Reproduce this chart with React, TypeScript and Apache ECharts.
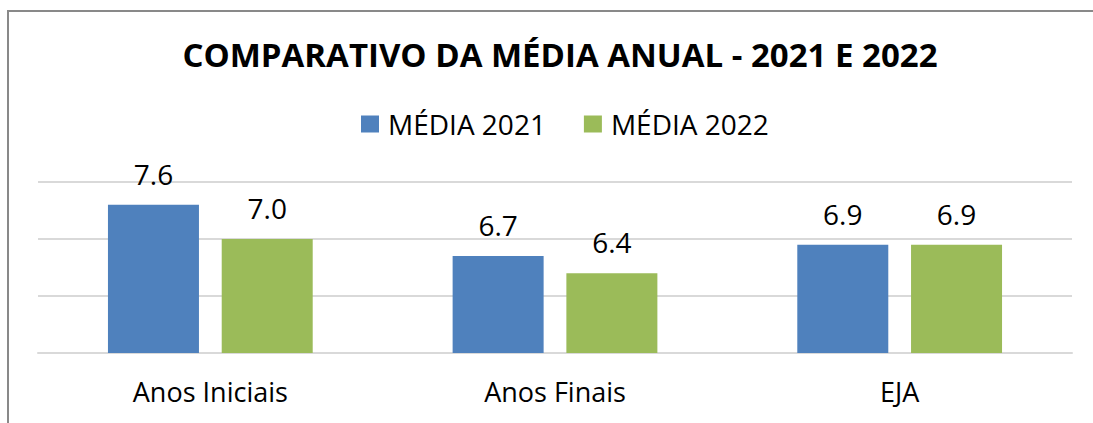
import React, { useEffect, useRef } from "react";
import * as echarts from "echarts";

const categories = ["Anos Iniciais", "Anos Finais", "EJA"];
const media2021 = [7.6, 6.7, 6.9];
const media2022 = [7.0, 6.4, 6.9];
const seriesNames = ["MÉDIA 2021", "MÉDIA 2022"];
const titleText = "COMPARATIVO DA MÉDIA ANUAL - 2021 E 2022";

export default function App() {
  const ref = useRef<HTMLDivElement>(null);
  useEffect(() => {
    document.body.style.margin = "0";
    const chart = echarts.init(ref.current!, null, { renderer: "svg" });
    const font = "'Open Sans', sans-serif";
    const label = {
      show: true,
      position: "top",
      distance: 17,
      fontFamily: font,
      fontSize: 28,
      color: "#000",
      formatter: (p: any) => Number(p.value).toFixed(1),
    };
    chart.setOption({
      animation: false,
      backgroundColor: "#fff",
      title: {
        text: titleText,
        left: 555,
        textAlign: "center",
        top: 33,
        textStyle: { fontFamily: font, fontSize: 33, fontWeight: "bold", color: "#000" },
      },
      legend: {
        data: seriesNames,
        left: 356,
        top: 105,
        itemWidth: 18,
        itemHeight: 17,
        itemGap: 38,
        icon: "rect",
        textStyle: { fontFamily: font, fontSize: 28, color: "#000", padding: [0, 0, 0, 4] },
      },
      grid: { left: 38, right: 21, top: 182, bottom: 70 },
      xAxis: {
        type: "category",
        data: categories,
        axisLine: { lineStyle: { color: "#D9D9D9", width: 2 } },
        axisTick: { show: false },
        axisLabel: { fontFamily: font, fontSize: 27, color: "#000", margin: 25 },
      },
      yAxis: {
        type: "value",
        min: 5,
        max: 8,
        interval: 1,
        axisLabel: { show: false },
        axisLine: { show: false },
        axisTick: { show: false },
        splitLine: { lineStyle: { color: "#D9D9D9", width: 2 } },
      },
      graphic: [
        {
          type: "polyline",
          shape: { points: [[8, 423], [8, 11], [1093, 11]] },
          style: { stroke: "#898989", lineWidth: 2, fill: "none" },
          z: 100,
        },
      ],
      series: [
        {
          name: seriesNames[0],
          type: "bar",
          data: media2021,
          barWidth: 91,
          barGap: "25%",
          itemStyle: { color: "#4F81BD" },
          label,
        },
        {
          name: seriesNames[1],
          type: "bar",
          data: media2022,
          barWidth: 91,
          barGap: "25%",
          itemStyle: { color: "#9BBB59" },
          label,
        },
      ],
    });
    return () => chart.dispose();
  }, []);
  return (
    <div
      ref={ref}
      style={{ position: "absolute", left: 0, top: 0, width: 1093, height: 423 }}
    />
  );
}
